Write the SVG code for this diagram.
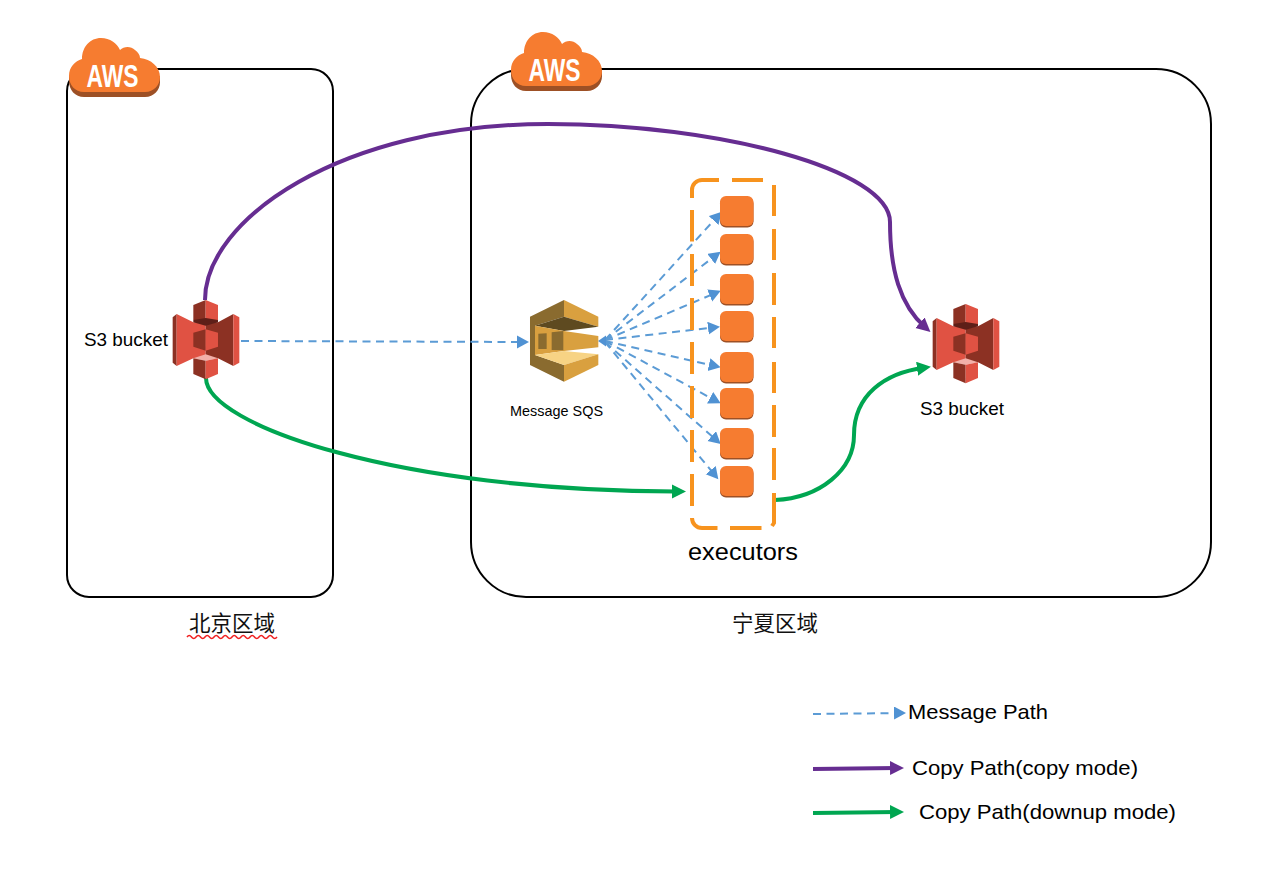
<svg xmlns="http://www.w3.org/2000/svg" xmlns:xlink="http://www.w3.org/1999/xlink" width="1282" height="876" viewBox="0 0 1282 876">
<style>
.region{fill:none;stroke:#000;stroke-width:2}
.blue{fill:none;stroke:#5b9bd5;stroke-width:2;stroke-dasharray:8 5.5}
.purple{fill:none;stroke:#662d91;stroke-width:4}
.green{fill:none;stroke:#00a651;stroke-width:4}
.t{font-family:"Liberation Sans",Arial,sans-serif;fill:#000}
.cjk{font-family:"Noto Sans CJK SC",sans-serif;fill:#111;font-size:21.500px}
.dash{fill:none;stroke:#f7931e;stroke-width:4}
.aws{font-family:"Liberation Sans",Arial,sans-serif;font-size:31px;font-weight:bold;fill:#fff;text-anchor:middle}
</style>
<defs>
<marker id="ab" markerUnits="userSpaceOnUse" markerWidth="14" markerHeight="14" refX="6" refY="6.500" orient="auto"><path d="M0,0L12,6.500L0,13Z" fill="#5092d3"/></marker>
<marker id="ap" markerUnits="userSpaceOnUse" markerWidth="16" markerHeight="16" refX="7" refY="7" orient="auto"><path d="M0,0L14,7L0,14Z" fill="#662d91"/></marker>
<marker id="ag" markerUnits="userSpaceOnUse" markerWidth="16" markerHeight="16" refX="7" refY="7" orient="auto"><path d="M0,0L14,7L0,14Z" fill="#00a651"/></marker>
<g id="cloud">
<path d="M15,59 C6,59 0,52 0,43 V38 H91 V44 C91,52 85,59 76,59 Z" fill="#9d5025"/>
<path d="M15,54 C6,54 0,47 0,38 C0,29 6,23 13,21 C13,9 21,0 32,0 C41,0 48,5 51,12 C55,8 62,8 66,12 C69,14 71,17 71,20 C82,21 91,29 91,39 C91,47 85,54 76,54 Z" fill="#f67c30"/>
</g>
<g id="s3" transform="scale(0.3333)">
<path d="M68,82L80,72V228L68,218Z" fill="#8c3123"/>
<path d="M80,72L130,97H167V205H130L80,228Z" fill="#e05243"/>
<path d="M167,97H204L250,72V228L204,205H167Z" fill="#8c3123"/>
<path d="M250,72L268,82V218L250,228Z" fill="#e05243"/>
<path d="M130,45L167,30V90L130,90Z" fill="#8c3123"/>
<path d="M167,30L204,45V90L167,90Z" fill="#e05243"/>
<path d="M130,90L167,84L204,90V97L167,107L130,97Z" fill="#5e1f18"/>
<path d="M130,128L167,118V182L130,170Z" fill="#8c3123"/>
<path d="M167,118L204,128V170L167,182Z" fill="#e05243"/>
<path d="M130,205L167,193L204,205L167,212Z" fill="#f2b0a9"/>
<path d="M130,205L167,212V268L130,252Z" fill="#8c3123"/>
<path d="M167,212L204,205V252L167,268Z" fill="#e05243"/>
</g>
<g id="ex"><rect x="0" y="1.500" width="33.500" height="30" rx="6" fill="#9d5025"/><rect x="0" y="0" width="33.500" height="30" rx="6" fill="#f67c30"/></g>
</defs>
<g id="region-beijing"><rect class="region" x="67" y="69" width="266" height="528" rx="22"/><use xlink:href="#cloud" href="#cloud" x="69" y="38"/><text class="aws" x="112.500" y="87" textLength="52" lengthAdjust="spacingAndGlyphs">AWS</text><text class="cjk" x="189" y="631">北京区域</text><path d="M187,637 q2.250,-3 4.500,0 q2.250,3 4.500,0 q2.250,-3 4.500,0 q2.250,3 4.500,0 q2.250,-3 4.500,0 q2.250,3 4.500,0 q2.250,-3 4.500,0 q2.250,3 4.500,0 q2.250,-3 4.500,0 q2.250,3 4.500,0 q2.250,-3 4.500,0 q2.250,3 4.500,0 q2.250,-3 4.500,0 q2.250,3 4.500,0 q2.250,-3 4.500,0 q2.250,3 4.500,0 q2.250,-3 4.500,0 q2.250,3 4.500,0 q2.250,-3 4.500,0 q2.250,3 4.500,0" fill="none" stroke="#f02020" stroke-width="1.500"/></g>
<g id="region-ningxia"><rect class="region" x="471" y="69" width="740" height="528" rx="55"/><use xlink:href="#cloud" href="#cloud" x="511" y="32"/><text class="aws" x="554.500" y="81" textLength="52" lengthAdjust="spacingAndGlyphs">AWS</text><text class="cjk" x="732" y="631">宁夏区域</text></g>
<g id="connectors">
<path class="blue" marker-end="url(#ab)" d="M241,341L523,342"/>
<path class="blue" marker-end="url(#ab)" d="M605,340L717.700,216.100"/>
<path class="blue" marker-end="url(#ab)" d="M605,340L715.900,255.300"/>
<path class="blue" marker-end="url(#ab)" d="M605,340L715.200,293.100"/>
<path class="blue" marker-end="url(#ab)" d="M605,340L714,327.400"/>
<path class="blue" marker-end="url(#ab)" d="M605,341L714.800,366"/>
<path class="blue" marker-end="url(#ab)" d="M605,341L715.400,400.500"/>
<path class="blue" marker-end="url(#ab)" d="M605,342L716.200,440"/>
<path class="blue" marker-end="url(#ab)" d="M605,342L714.500,474.700"/>
<path d="M598,341L606,335.500V346.500Z" fill="#5092d3"/>
<path class="purple" marker-end="url(#ap)" d="M205,300C205,220 340,124 548,124C720,124 890,170 890,222C890,270 900,305 925.200,327.300"/>
<path class="green" marker-end="url(#ag)" d="M206,378C206,425 400,492 679,491.400"/>
<path class="green" marker-end="url(#ag)" d="M775,500C820,498 854,470 854,435C854,395 885,373 924,367.800"/>
</g>
<g id="s3-source"><use xlink:href="#s3" href="#s3" transform="translate(150,290)"/><text class="t" x="84" y="346" font-size="18.500" textLength="84" lengthAdjust="spacingAndGlyphs">S3 bucket</text></g>
<g id="s3-target"><use xlink:href="#s3" href="#s3" transform="translate(910,294)"/><text class="t" x="920" y="415" font-size="18.500" textLength="84" lengthAdjust="spacingAndGlyphs">S3 bucket</text></g>
<g id="sqs" transform="translate(500,285) scale(0.3333)">
<path d="M90,95L192,45V95L105,122V210L192,240V290L90,240Z" fill="#8a6b2f"/>
<path d="M192,45L295,95V125L192,95Z" fill="#d9a03f"/>
<path d="M105,122L192,95L295,125L192,138Z" fill="#5e4a20"/>
<path d="M105,122L192,138V198L105,210Z" fill="#d9a03f"/>
<path d="M192,138L295,153V187L192,198Z" fill="#d9a03f"/>
<path d="M115,146L140,145V192L115,192ZM155,142L190,138V196L155,195Z" fill="#8a6b2f"/>
<path d="M105,210L192,198L295,208L192,240Z" fill="#f7d384"/>
<path d="M192,240L295,208V240L192,290Z" fill="#d9a03f"/>
</g>
<text id="sqs-label" class="t" x="510" y="416" font-size="14.400" textLength="93" lengthAdjust="spacingAndGlyphs">Message SQS</text>
<g id="executors">
<path class="dash" d="M692,198V190A10,10 0 0 1 702,180H719M732,180H763M692,210V241.500M692,254V286M692,298V330M692,342V374M692,386V418M692,430V462M692,474V506M692,518A10,10 0 0 0 702,528H717.500M730,528H761.500M774,185V216M774,229V260M774,273V305M774,317V348M774,362V393M774,405V437M774,448V480M774,493V523L772,526"/>
<use xlink:href="#ex" href="#ex" x="720" y="196"/>
<use xlink:href="#ex" href="#ex" x="720" y="234"/>
<use xlink:href="#ex" href="#ex" x="720" y="274"/>
<use xlink:href="#ex" href="#ex" x="720" y="311"/>
<use xlink:href="#ex" href="#ex" x="720" y="352"/>
<use xlink:href="#ex" href="#ex" x="720" y="388"/>
<use xlink:href="#ex" href="#ex" x="720" y="428"/>
<use xlink:href="#ex" href="#ex" x="720" y="466"/>
<text class="t" x="688" y="560" font-size="24.500" textLength="110" lengthAdjust="spacingAndGlyphs">executors</text>
</g>
<g id="legend">
<path class="blue" marker-end="url(#ab)" d="M813,714L900,713"/>
<path class="purple" marker-end="url(#ap)" d="M813,769L897,768"/>
<path class="green" marker-end="url(#ag)" d="M813,813L897,812"/>
<text class="t" x="908" y="719" font-size="21" textLength="140" lengthAdjust="spacingAndGlyphs">Message Path</text>
<text class="t" x="912" y="775" font-size="21" textLength="226" lengthAdjust="spacingAndGlyphs">Copy Path(copy mode)</text>
<text class="t" x="919" y="819" font-size="21" textLength="257" lengthAdjust="spacingAndGlyphs">Copy Path(downup mode)</text>
</g>
</svg>
